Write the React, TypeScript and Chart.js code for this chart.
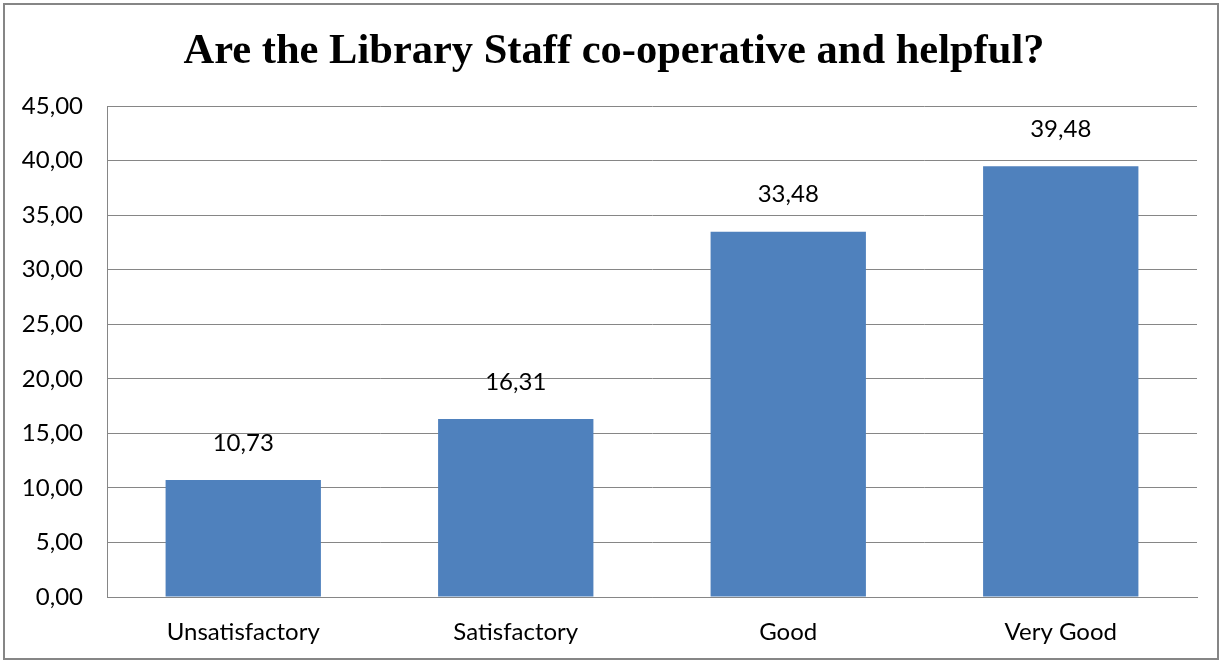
import React, { useEffect, useRef } from "react";
import { Chart, registerables } from "chart.js";

Chart.register(...registerables);

const title = "Are the Library Staff co-operative and helpful?";
const categories = ["Unsatisfactory", "Satisfactory", "Good", "Very Good"];
const values = [10.73, 16.31, 33.48, 39.48];
const yMin = 0;
const yMax = 45;
const yStep = 5;

const fmt = (v: number) => v.toFixed(2).replace(".", ",");

const labelFont = "Lato, 'Open Sans', sans-serif";

export default function App() {
  const ref = useRef<HTMLCanvasElement | null>(null);

  useEffect(() => {
    if (!ref.current) return;
    const titlePlugin = {
      id: "titleDraw",
      afterDraw(chart: any) {
        const ctx = chart.ctx;
        ctx.save();
        ctx.font = "bold 42.5px 'Liberation Serif', 'Times New Roman', serif";
        ctx.fillStyle = "#000";
        ctx.textAlign = "center";
        ctx.textBaseline = "middle";
        ctx.fillText(title, 614, 52);
        ctx.restore();
      },
    };
    const valuePlugin = {
      id: "valueLabels",
      afterDatasetsDraw(chart: any) {
        const ctx = chart.ctx;
        const meta = chart.getDatasetMeta(0);
        ctx.save();
        ctx.font = `24px ${labelFont}`;
        ctx.fillStyle = "#000";
        ctx.textAlign = "center";
        ctx.textBaseline = "middle";
        meta.data.forEach((bar: any, i: number) => {
          ctx.fillText(fmt(values[i]), bar.x, bar.y - 37);
        });
        ctx.restore();
      },
    };
    const chart = new Chart(ref.current, {
      type: "bar",
      data: {
        labels: categories,
        datasets: [
          {
            data: values,
            backgroundColor: "#4F81BD",
            borderWidth: 0,
            barPercentage: 0.57,
            categoryPercentage: 1,
          },
        ],
      },
      options: {
        responsive: false,
        animation: false,
        layout: { padding: { left: 0, right: 27, top: 106, bottom: 0 } },
        plugins: {
          legend: { display: false },
          title: { display: false },
          tooltip: { enabled: false },
        },
        scales: {
          x: {
            grid: { display: false, drawTicks: false },
            border: { display: true, color: "#868686", width: 1 },
            ticks: {
              color: "#000",
              font: { family: labelFont, size: 24 },
              padding: 21,
            },
            afterFit(scale: any) {
              scale.height = 67;
            },
          },
          y: {
            min: yMin,
            max: yMax,
            ticks: {
              stepSize: yStep,
              color: "#000",
              font: { family: labelFont, size: 24 },
              padding: 24,
              callback: (v: any) => fmt(Number(v)),
            },
            grid: { color: "#868686", lineWidth: 1, drawTicks: false },
            border: { display: true, color: "#868686", width: 1 },
            afterFit(scale: any) {
              scale.width = 107;
            },
          },
        },
      },
      plugins: [titlePlugin, valuePlugin],
    });
    return () => chart.destroy();
  }, []);

  return (
    <div style={{ position: "absolute", left: 0, top: 0, width: 1224, height: 664, background: "#fff" }}>
      <div
        style={{
          position: "absolute",
          left: 3,
          top: 3,
          width: 1216,
          height: 657,
          border: "2px solid #868686",
          boxSizing: "border-box",
        }}
      />
      <canvas ref={ref} width={1224} height={664} style={{ position: "absolute", left: 0, top: 0 }} />
    </div>
  );
}
